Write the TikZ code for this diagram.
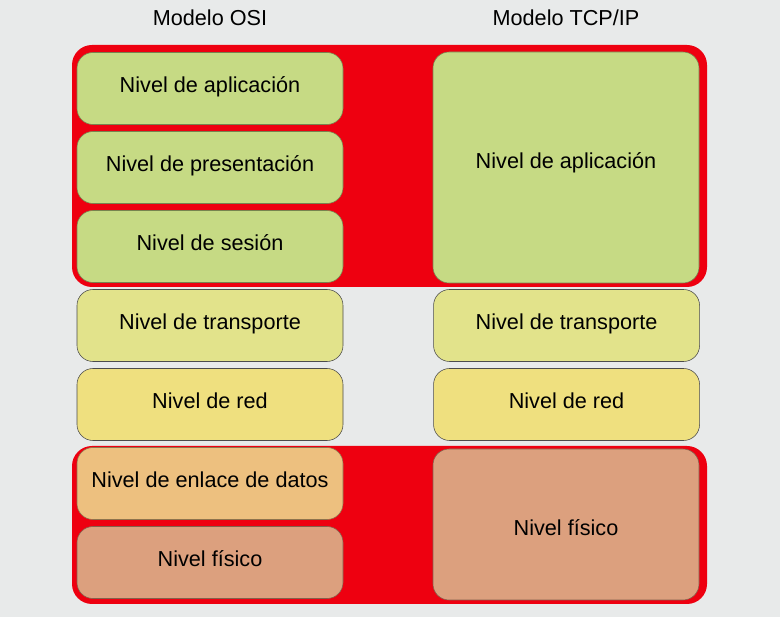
\documentclass[tikz,border=0pt]{standalone}
\usepackage{fontspec}
\setmainfont{Liberation Sans}
\usetikzlibrary{positioning}
\definecolor{fondo}{HTML}{E8EAEA}
\definecolor{rojo}{HTML}{EE0010}
\definecolor{verde}{HTML}{C6DA84}
\definecolor{lima}{HTML}{E2E38B}
\definecolor{amarillo}{HTML}{EFE07F}
\definecolor{naranja}{HTML}{EDC07F}
\definecolor{salmon}{HTML}{DCA07E}
\tikzset{
  nivel/.style={draw=#1!60!black, rounded corners=0.4cm, minimum width=6.65cm,
    minimum height=1.8cm, inner sep=0pt, text height=0.4cm, text depth=0.21cm,
    font=\fontsize{15.4}{18}\selectfont},
  marco/.style={fill=rojo, rounded corners=0.5cm}
}
\begin{document}
\begin{tikzpicture}[node distance=1.975cm]
\fill[fondo] (0,0) rectangle (19.5,-15.425);
\fill[marco] (1.8,-1.125) rectangle (17.675,-7.175);
\fill[marco] (1.8,-11.15) rectangle (17.675,-15.1);
% modelo OSI
\node[font=\fontsize{15.4}{18}\selectfont] (osi) at (5.25,-0.45) {Modelo OSI};
\node[nivel=verde, fill=verde] (apl) at (5.25,-2.2125) {Nivel de aplicación};
\node[nivel=verde, fill=verde, below of=apl] (pres) {Nivel de presentación};
\node[nivel=verde, fill=verde, below of=pres] (ses) {Nivel de sesión};
\node[nivel=gray, fill=lima, below of=ses] (trans) {Nivel de transporte};
\node[nivel=gray, fill=amarillo, below of=trans] (red) {Nivel de red};
\node[nivel=naranja, fill=naranja, below of=red] (enl) {Nivel de enlace de datos};
\node[nivel=salmon, fill=salmon, below of=enl] (fis) {Nivel físico};
% modelo TCP/IP
\node[font=\fontsize{15.4}{18}\selectfont] (tcp) at (14.15,-0.45) {Modelo TCP/IP};
\node[nivel=verde, fill=verde, minimum height=5.775cm, text depth=0.36cm] (tapl) at (14.15,-4.1875) {Nivel de aplicación};
\node[nivel=gray, fill=lima, right=2.25cm of trans] (ttrans) {Nivel de transporte};
\node[nivel=gray, fill=amarillo, right=2.25cm of red] (tred) {Nivel de red};
\node[nivel=salmon, fill=salmon, minimum height=3.775cm, text height=0.54cm, text depth=0cm] (tfis) at (14.15,-13.1125) {Nivel físico};
\end{tikzpicture}
\end{document}
